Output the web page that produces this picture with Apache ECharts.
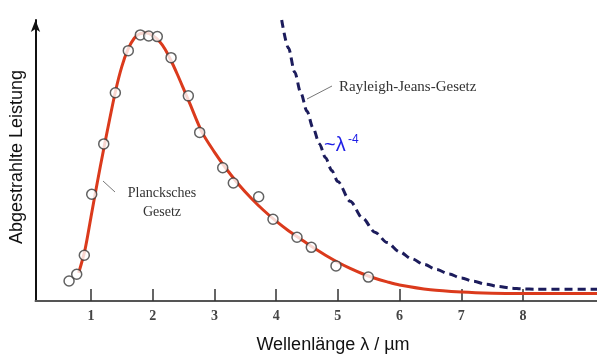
<!DOCTYPE html>
<html>
<head>
<meta charset="utf-8">
<script src="https://cdn.jsdelivr.net/npm/echarts@6/dist/echarts.min.js"></script>
<style>
  html, body { margin: 0; padding: 0; background: #fff; }
  #main { width: 597px; height: 358px; }
</style>
</head>
<body>
<div id="main"></div>
<script>
// Messpunkte (Wellenlänge in µm, Leistung in willk. Einheiten)
var messX = [0.644, 0.768, 0.891, 1.011, 1.206, 1.394, 1.604, 1.799, 1.935, 2.074, 2.297, 2.577, 2.761, 3.134, 3.306, 3.717, 3.949, 4.338, 4.570, 4.970, 5.494];
var messY = [7.1, 9.5, 16.3, 38.0, 55.9, 74.1, 89.1, 94.7, 94.3, 94.1, 86.6, 73.0, 60.0, 47.4, 42.0, 37.1, 29.1, 22.7, 19.1, 12.5, 8.5];

// Plancksches Gesetz
var planckX = [0.8, 0.9, 1.0, 1.1, 1.2, 1.3, 1.4, 1.5, 1.6, 1.7, 1.8, 1.9, 2.0, 2.1, 2.2, 2.3, 2.4, 2.5, 2.6, 2.8, 3.0, 3.2, 3.4, 3.6, 3.8, 4.0, 4.2, 4.4, 4.6, 4.8, 5.0, 5.2, 5.4, 5.6, 5.8, 6.0, 6.5, 7.0, 7.5, 8.0, 9.2];
var planckY = [10, 18, 30, 42, 53.5, 64.5, 75, 83.5, 89.6, 93.5, 95.2, 95.4, 94.5, 92.6, 89.6, 85.4, 80.6, 75.5, 70.3, 60, 53, 46.8, 41.3, 36.5, 32.2, 28.4, 25.0, 22.0, 19.0, 16.3, 13.8, 11.6, 9.7, 8.1, 6.8, 5.7, 4.0, 3.2, 2.8, 2.7, 2.7];

// Rayleigh-Jeans-Gesetz
var rjX = [4.09, 4.2, 4.3, 4.4, 4.5, 4.6, 4.7, 4.8, 4.9, 5.0, 5.2, 5.4, 5.6, 5.8, 6.0, 6.2, 6.4, 6.6, 6.8, 7.0, 7.2, 7.4, 7.6, 7.8, 8.0, 8.2, 9.2];
var rjY = [100, 90, 81.5, 74, 67.5, 61.5, 56, 51, 46.5, 42.5, 35.5, 29.5, 24.5, 20.8, 17.5, 15.0, 13.0, 11.2, 9.6, 8.2, 7.0, 6.0, 5.2, 4.6, 4.3, 4.2, 4.2];

var tickWerte = [1, 2, 3, 4, 5, 6, 7, 8];

var zip = function (xs, ys) {
  return xs.map(function (x, i) { return [x, ys[i]]; });
};

var chart = echarts.init(document.getElementById('main'));
var option = {
  animation: false,
  backgroundColor: '#fff',
  grid: { left: 35.5, right: 0, top: 20, bottom: 57 },
  xAxis: {
    type: 'value',
    min: 0.1,
    max: 9.2,
    splitLine: { show: false },
    axisLine: { lineStyle: { color: '#555', width: 2 } },
    axisTick: {
      inside: true, length: 12, customValues: tickWerte,
      lineStyle: { color: '#333', width: 1.5 }
    },
    axisLabel: {
      customValues: tickWerte, margin: 8,
      fontFamily: 'Liberation Serif', fontSize: 14, fontWeight: 'bold', color: '#444'
    }
  },
  yAxis: {
    type: 'value',
    min: 0,
    max: 100,
    splitLine: { show: false },
    axisTick: { show: false },
    axisLabel: { show: false },
    axisLine: {
      show: true,
      symbol: ['none', 'arrow'],
      symbolSize: [7, 12],
      lineStyle: { color: '#111', width: 2 }
    }
  },
  series: [
    {
      name: 'Rayleigh-Jeans-Gesetz',
      type: 'line',
      data: zip(rjX, rjY),
      smooth: 0.3,
      smoothMonotone: 'x',
      showSymbol: false,
      lineStyle: { color: '#1c1c5c', width: 3, type: [8, 5] },
      z: 2
    },
    {
      name: 'Plancksches Gesetz',
      type: 'line',
      data: zip(planckX, planckY),
      smooth: 0.3,
      showSymbol: false,
      lineStyle: { color: '#db3a1c', width: 3 },
      z: 3
    },
    {
      name: 'Messung',
      type: 'scatter',
      data: zip(messX, messY),
      symbol: 'circle',
      symbolSize: 10,
      itemStyle: { color: '#fff', borderColor: '#3a3a3a', borderWidth: 1.5 },
      z: 4
    }
  ],
  graphic: [
    {
      type: 'text', x: 17, y: 157, rotation: Math.PI / 2,
      style: {
        text: 'Abgestrahlte Leistung', fontFamily: 'Liberation Sans', fontSize: 18,
        fill: '#111', align: 'center', verticalAlign: 'middle'
      }
    },
    {
      type: 'text', x: 333, y: 345,
      style: {
        text: 'Wellenlänge λ / µm', fontFamily: 'Liberation Sans', fontSize: 18,
        fill: '#111', align: 'center', verticalAlign: 'middle'
      }
    },
    {
      type: 'text', x: 162, y: 193,
      style: {
        text: 'Plancksches', fontFamily: 'Liberation Serif', fontSize: 14,
        fill: '#333', align: 'center', verticalAlign: 'middle'
      }
    },
    {
      type: 'text', x: 162, y: 212,
      style: {
        text: 'Gesetz', fontFamily: 'Liberation Serif', fontSize: 14,
        fill: '#333', align: 'center', verticalAlign: 'middle'
      }
    },
    {
      type: 'line',
      shape: { x1: 103, y1: 181, x2: 115, y2: 192 },
      style: { stroke: '#777', lineWidth: 1 }
    },
    {
      type: 'text', x: 339, y: 87,
      style: {
        text: 'Rayleigh-Jeans-Gesetz', fontFamily: 'Liberation Serif', fontSize: 15,
        fill: '#333', align: 'left', verticalAlign: 'middle'
      }
    },
    {
      type: 'line',
      shape: { x1: 307, y1: 99, x2: 332, y2: 86 },
      style: { stroke: '#777', lineWidth: 1 }
    },
    {
      type: 'text', x: 324, y: 145,
      style: {
        text: '~λ', fontFamily: 'Liberation Sans', fontSize: 20,
        fill: '#1f1fe6', align: 'left', verticalAlign: 'middle'
      }
    },
    {
      type: 'text', x: 348, y: 140,
      style: {
        text: '-4', fontFamily: 'Liberation Sans', fontSize: 12,
        fill: '#1f1fe6', align: 'left', verticalAlign: 'middle'
      }
    }
  ]
};
chart.setOption(option);
</script>
</body>
</html>
